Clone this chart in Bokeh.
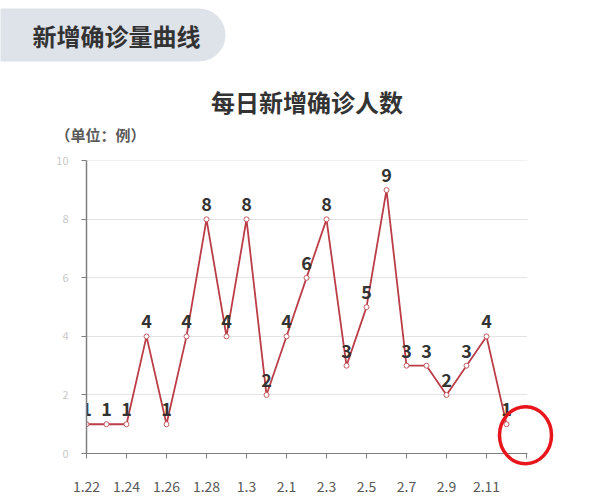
from bokeh.plotting import figure
from bokeh.models import Range1d, FixedTicker, Title, ColumnDataSource
from bokeh.core.properties import value
from bokeh.embed import file_html
from bokeh.resources import INLINE

# ---- data ----
dates = ["1.22", "1.23", "1.24", "1.25", "1.26", "1.27", "1.28", "1.29", "1.3", "1.31",
         "2.1", "2.2", "2.3", "2.4", "2.5", "2.6", "2.7", "2.8", "2.9", "2.10", "2.11", "2.12"]
cases = [1, 1, 1, 4, 1, 4, 8, 4, 8, 2,
         4, 6, 8, 3, 5, 9, 3, 3, 2, 3, 4, 1]
y_ticks = [0, 2, 4, 6, 8, 10]
header_text = "新增确诊量曲线"
title_text = "每日新增确诊人数"
unit_text = "（单位：例）"

# ---- layout constants (pixels) ----
W, H = 596, 503
FL, FT, FR, FB = 86, 160, 527, 453
STEP = 20.0
XMAX = (FR - FL) / STEP
YMAX = 10.01
PXY = (FB - FT) / YMAX
CJK = "Noto Sans CJK SC"

p = figure(width=W, height=H, output_backend="svg", toolbar_location=None,
           x_range=Range1d(0, XMAX), y_range=Range1d(0, YMAX),
           min_border_left=FL, min_border_right=W - FR,
           min_border_top=FT, min_border_bottom=H - FB, title=None)
p.outline_line_color = None
p.background_fill_color = "white"
p.border_fill_color = "white"

# texts above the frame (stacked from the frame outward)
unit_t = Title(text=unit_text, align="left", offset=-31, text_font=CJK,
               text_font_size="15px", text_font_style="bold",
               text_color="#5a5a5a", standoff=0,
               padding=dict(left=0, right=0, top=0, bottom=16))
main_t = Title(text=title_text, align="center", text_font=CJK,
               text_font_size="24px", text_font_style="bold",
               text_color="#333333", standoff=0,
               padding=dict(left=0, right=0, top=14, bottom=3))
head_t = Title(text=header_text, align="left", offset=-86, text_font=CJK,
               text_font_size="24px", text_font_style="bold",
               text_color="#333333", standoff=12,
               background_fill_color="#dee2e9", background_fill_alpha=1.0,
               padding=dict(left=32, right=25, top=9, bottom=9),
               border_radius=dict(top_left=0, top_right=27,
                                  bottom_right=27, bottom_left=0))
p.add_layout(unit_t, "above")
p.add_layout(main_t, "above")
p.add_layout(head_t, "above")

idx = list(range(len(dates)))
src = ColumnDataSource(dict(x=idx, y=cases, lab=[str(c) for c in cases]))

p.line("x", "y", source=src, line_color="#bb3d47", line_width=1.8)
p.scatter("x", "y", source=src, size=5, fill_color="white", line_color="#c65a60",
          line_width=1)
p.text("x", "y", text="lab", source=src, y_offset=-15, text_align="center",
       text_baseline="middle", text_font=value(CJK), text_font_size="18px",
       text_font_style="bold", text_color="#333333")

# red highlight circle around the last point
p.ellipse(x=[idx[-1] + 19 / STEP], y=[cases[-1] - 11 / PXY],
          width=52 / STEP, height=57 / PXY, fill_color=None,
          line_color="#e8161c", line_width=3.5, level="overlay")

# axes
xt = list(range(0, len(dates) + 1, 2))
p.xaxis.ticker = FixedTicker(ticks=xt)
p.xaxis.major_label_overrides = {i: (dates[i] if i < len(dates) else "") for i in xt}
p.xaxis.major_label_text_font = CJK
p.xaxis.major_label_text_font_size = "14px"
p.xaxis.major_label_text_color = "#595959"
p.xaxis.major_label_standoff = 22
p.xaxis.major_tick_out = 5
p.xaxis.major_tick_in = 0
p.xaxis.minor_tick_line_color = None
p.xaxis.axis_line_color = "#7f7f7f"
p.xaxis.major_tick_line_color = "#7f7f7f"

p.yaxis.ticker = FixedTicker(ticks=y_ticks)
p.yaxis.major_label_text_font = CJK
p.yaxis.major_label_text_font_size = "11px"
p.yaxis.major_label_text_color = "#c8c8c8"
p.yaxis.major_label_standoff = 13
p.yaxis.major_tick_out = 5
p.yaxis.major_tick_in = 0
p.yaxis.minor_tick_line_color = None
p.yaxis.axis_line_color = "#7f7f7f"
p.yaxis.axis_line_width = 1.5
p.yaxis.major_tick_line_color = "#7f7f7f"

p.xgrid.grid_line_color = None
p.ygrid.grid_line_color = "#e3e3e3"
p.ygrid.ticker = FixedTicker(ticks=y_ticks)

open("out.html", "w").write(file_html(p, INLINE))
